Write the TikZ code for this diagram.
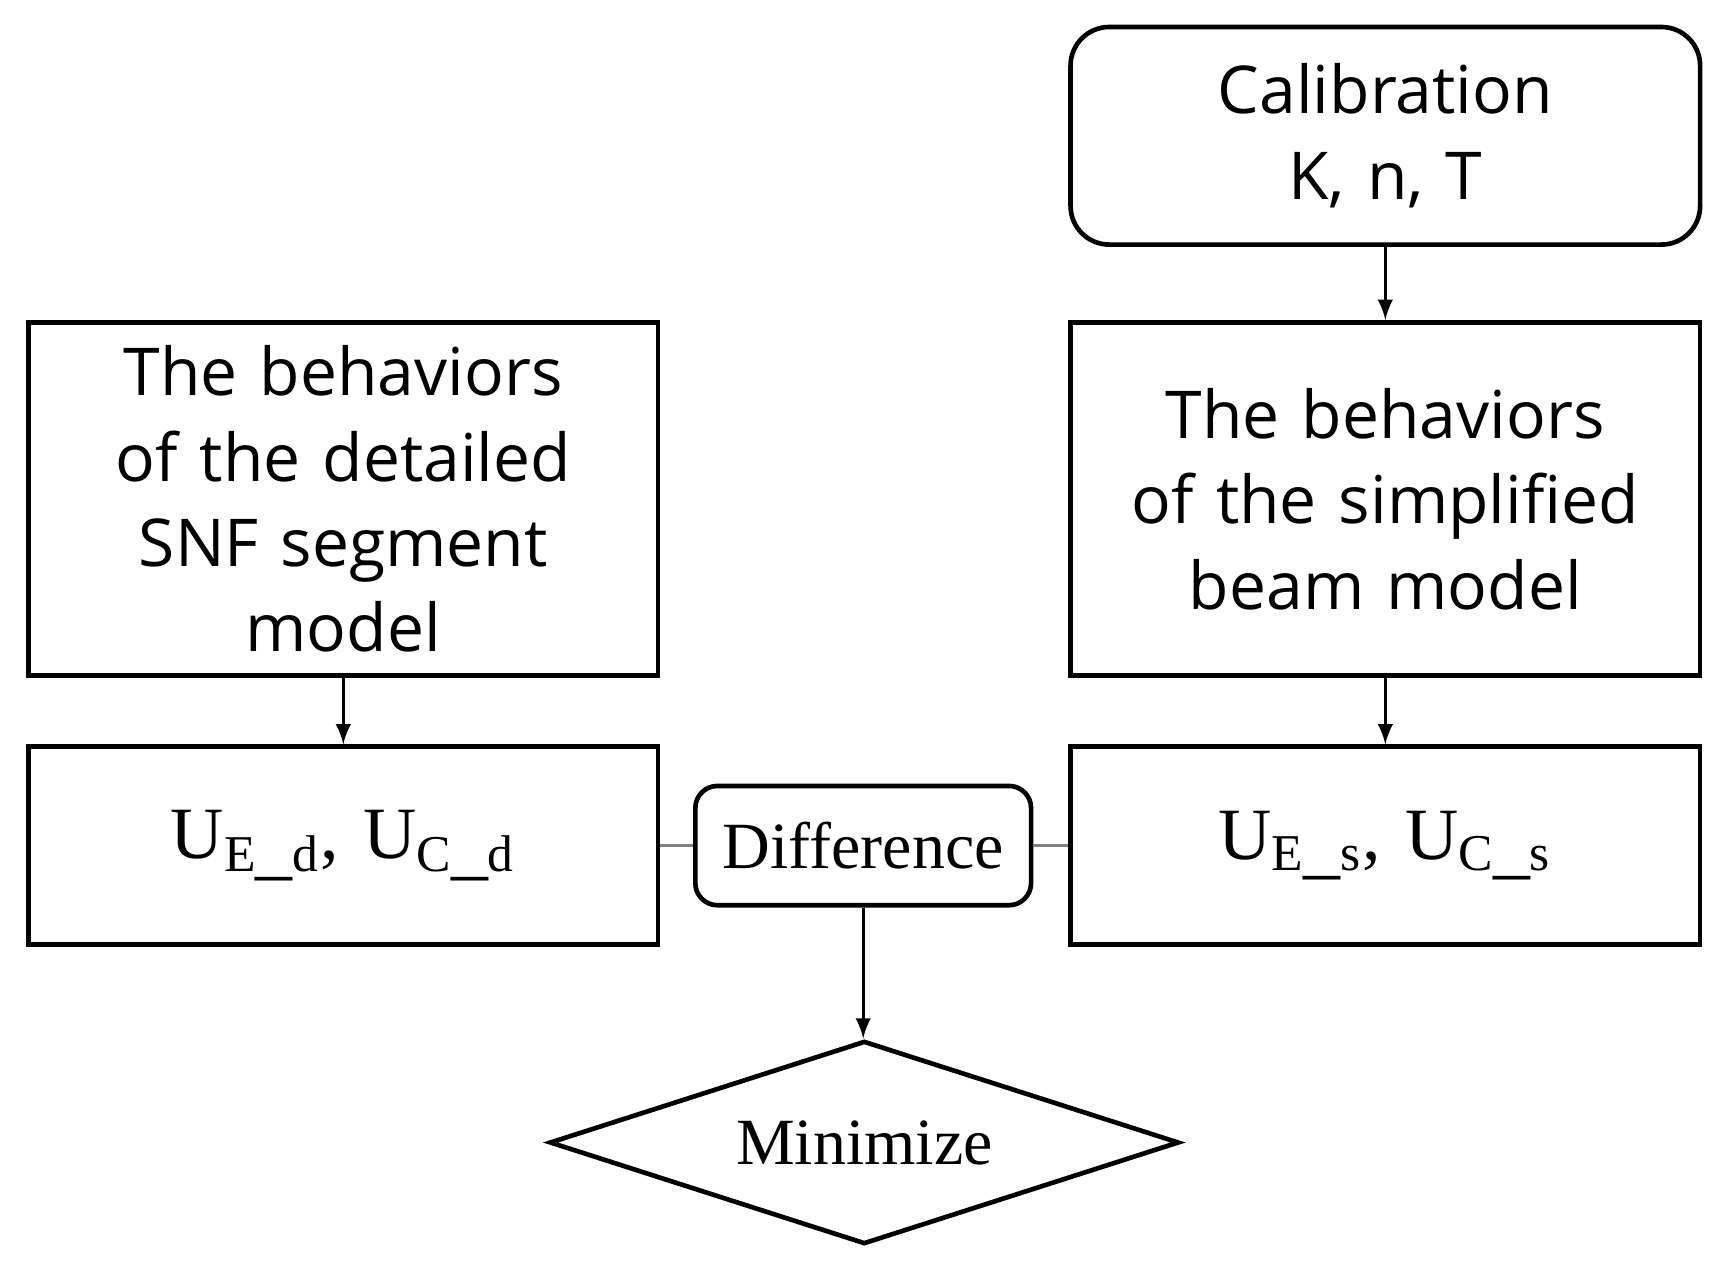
\documentclass[tikz,border=0pt]{standalone}
\usepackage{fontspec}
\setmainfont{Liberation Serif}
\newfontfamily\boxfont{Open Sans}
\usetikzlibrary{shapes.geometric}
\begin{document}
\begin{tikzpicture}[x=0.01cm,y=-0.01cm,
        block/.style={draw,very thick,minimum width=5.7cm,text width=5.4cm,align=center,font=\boxfont\fontsize{17}{22}\selectfont},
        round/.style={block,rounded corners=0.35cm},
        small/.style={draw,very thick,rounded corners=0.2cm,minimum width=3.04cm,minimum height=1.08cm,font=\fontsize{17}{22}\selectfont},
        decide/.style={draw,very thick,diamond,aspect=3.1,inner sep=2pt,minimum width=5.7cm,minimum height=1.84cm,font=\fontsize{17}{22}\selectfont},
        flow/.style={thick,-latex},
        link/.style={thick,gray}
    ]
        \useasboundingbox (0,0) rectangle (1560,1150);
        % Define the nodes
        \node[round,minimum height=1.97cm] (calib) at (1255,123) {Calibration\\K, n, T};
        \node[block,minimum height=3.2cm] (detail) at (311,452) {The behaviors\\of the detailed\\SNF segment\\model};
        \node[block,minimum height=3.2cm] (simple) at (1255,452) {The behaviors\\of the simplified\\beam model};
        \node[block,minimum height=1.79cm,font=\fontsize{19}{24}\selectfont] (ud) at (311,766) {U$_{\mathrm{E\_d}}$, U$_{\mathrm{C\_d}}$};
        \node[block,minimum height=1.79cm,font=\fontsize{19}{24}\selectfont] (us) at (1255,766) {U$_{\mathrm{E\_s}}$, U$_{\mathrm{C\_s}}$};
        \node[small] (diff) at (782,766) {Difference};
        \node[decide] (mini) at (783,1035) {Minimize};

        % Connect them
        \draw[flow] (calib) -- (simple);
        \draw[flow] (detail) -- (ud);
        \draw[flow] (simple) -- (us);
        \draw[flow] (diff) -- (diff |- mini.north);
        \draw[link] (ud) -- (diff);
        \draw[link] (diff) -- (us);
    \end{tikzpicture}
\end{document}
